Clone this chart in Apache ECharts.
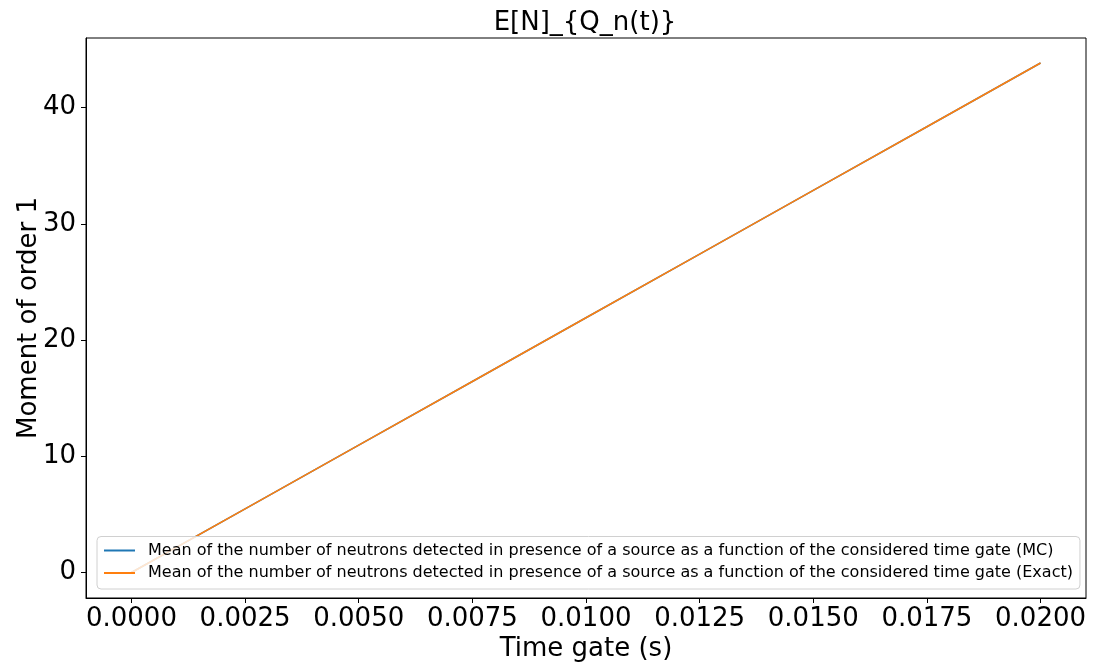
<!DOCTYPE html>
<html>
<head>
<meta charset="utf-8">
<script src="https://cdn.jsdelivr.net/npm/echarts@6/dist/echarts.min.js"></script>
<style>html,body{margin:0;padding:0;background:#fff}#c{width:1097px;height:666px}</style>
</head>
<body>
<div id="c"></div>
<script>
const timeGate = [0, 0.0025, 0.005, 0.0075, 0.01, 0.0125, 0.015, 0.0175, 0.02];
const meanMC = [0, 5.48, 10.96, 16.44, 21.92, 27.40, 32.88, 38.36, 43.84];
const meanExact = [0, 5.48, 10.96, 16.44, 21.92, 27.40, 32.88, 38.36, 43.84];
const xTicks = [0, 0.0025, 0.005, 0.0075, 0.01, 0.0125, 0.015, 0.0175, 0.02];
const yTicks = [0, 10, 20, 30, 40];
const seriesNames = [
  'Mean of the number of neutrons detected in presence of a source as a function of the considered time gate (MC)',
  'Mean of the number of neutrons detected in presence of a source as a function of the considered time gate (Exact)'
];
const F = 'DejaVu Sans';
const chart = echarts.init(document.getElementById('c'), null, {renderer: 'canvas'});
chart.setOption({
  animation: false,
  backgroundColor: '#fff',
  title: {
    text: 'E[N]_{Q_n(t)}', left: 580, top: 5, textAlign: 'center',
    textStyle: {fontFamily: F, fontSize: 26, fontWeight: 'normal', color: '#000'}
  },
  grid: {left: 86, right: 11, top: 38, bottom: 68, show: true, borderColor: '#000', borderWidth: 1,
    backgroundColor: 'transparent', containLabel: false, outerBoundsMode: 'none'},
  xAxis: {
    type: 'value', min: -0.001, max: 0.021,
    name: 'Time gate (s)', nameLocation: 'middle', nameGap: 38, nameMoveOverlap: false,
    nameTextStyle: {fontFamily: F, fontSize: 26, color: '#000'},
    axisLine: {show: true, onZero: false, lineStyle: {color: '#000'}},
    axisTick: {show: true, length: 5, inside: false, customValues: xTicks, lineStyle: {color: '#000'}},
    axisLabel: {customValues: xTicks, fontFamily: F, fontSize: 26, color: '#000', margin: 8,
      formatter: v => v.toFixed(4)},
    splitLine: {show: false}
  },
  yAxis: {
    type: 'value', min: -2.19, max: 45.99,
    name: 'Moment of order 1', nameLocation: 'middle', nameGap: 44, nameRotate: 90, nameMoveOverlap: false,
    nameTextStyle: {fontFamily: F, fontSize: 26, color: '#000'},
    axisLine: {show: true, onZero: false, lineStyle: {color: '#000'}},
    axisTick: {show: true, length: 5, inside: false, customValues: yTicks, lineStyle: {color: '#000'}},
    axisLabel: {customValues: yTicks, fontFamily: F, fontSize: 26, color: '#000', margin: 10},
    splitLine: {show: false}
  },
  legend: {
    orient: 'vertical', left: 97, bottom: 77,
    icon: 'rect', itemWidth: 31, itemHeight: 2, itemGap: 6.5,
    padding: [6, 7, 8, 7],
    backgroundColor: 'rgba(255,255,255,0.8)', borderColor: '#d0d0d0', borderWidth: 1, borderRadius: 4,
    textStyle: {fontFamily: F, fontSize: 16, color: '#000', padding: [0, 0, 0, 8]},
    data: seriesNames
  },
  series: [
    {name: seriesNames[0], type: 'line', data: timeGate.map((t, i) => [t, meanMC[i]]),
      showSymbol: false, symbol: 'none', color: '#1f77b4', lineStyle: {width: 1.6, color: '#1f77b4'}},
    {name: seriesNames[1], type: 'line', data: timeGate.map((t, i) => [t, meanExact[i]]),
      showSymbol: false, symbol: 'none', color: '#ff7f0e', lineStyle: {width: 1.6, color: '#ff7f0e'}}
  ]
});
</script>
</body>
</html>
